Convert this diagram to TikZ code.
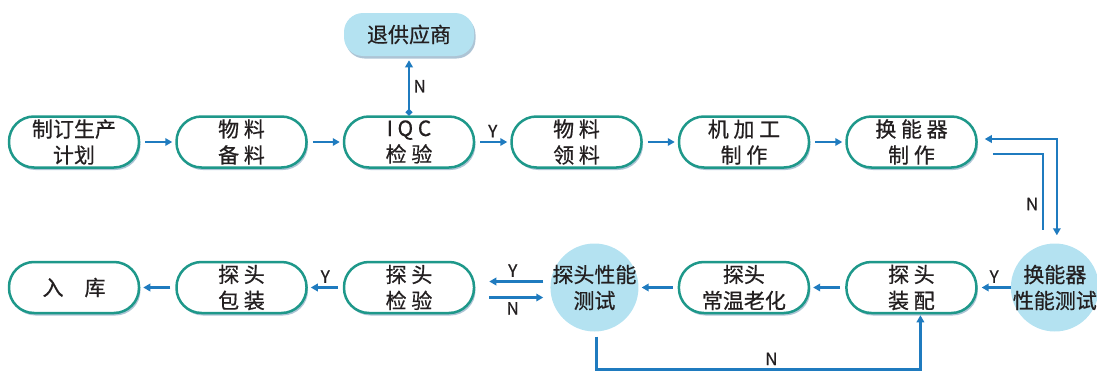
\documentclass[tikz,border=0pt]{standalone}
\usepackage{fontspec}
\newfontfamily\cjk[FakeBold=0.6]{Noto Sans CJK SC}
\usetikzlibrary{arrows.meta,positioning,shadows}
\definecolor{boxline}{HTML}{1E988A}
\definecolor{flowblue}{HTML}{1F7BBF}
\definecolor{testfill}{HTML}{B4E2F1}
\definecolor{txt}{HTML}{231F20}
\tikzset{%
        >={Triangle[length=7pt,width=7.5pt]},
        node distance=35pt
}
\tikzstyle{box}=[
    draw = boxline,
    line width = 2.5pt,
    fill = white,
    rounded corners = 25pt,
    minimum width = 130pt,
    minimum height = 51pt,
    inner sep = 2pt,
    align = center,
    text = txt,
    font = \cjk\fontsize{21}{26}\selectfont,
    drop shadow = {shadow xshift=1.5pt, shadow yshift=-2.5pt, fill=flowblue!55!gray, opacity=.45}
]
\tikzstyle{test}=[
    circle,
    fill = testfill,
    minimum size = 88pt,
    inner sep = 0pt,
    align = center,
    text = txt,
    font = \cjk\fontsize{21}{26}\selectfont
]
\tikzstyle{flow}=[
    ->,
    draw = flowblue,
    line width = 2.5pt,
    shorten > = 3pt,
    shorten < = 5pt
]
\tikzstyle{every edge}=[flow]
\tikzstyle{lbl}=[
    text = txt,
    font = \cjk\fontsize{17}{19}\selectfont
]
% centred line of fixed zero width, so the circle keeps its size
\newcommand{\testline}[1]{\makebox[0pt]{#1}}

\begin{document}
\begin{tikzpicture}[x=1pt,y=-1pt]
        \useasboundingbox (0,0) rectangle (1097,372);
        % upper row
        \node[box] (plan) at (74,142) {制订生产\\计划};
        \node[box] (prep) [right = of plan] {物 料\\备 料};
        \node[box] (iqc) [right = of prep] {I Q C\\检 验};
        \node[box] (mat) [right = of iqc] {物 料\\领 料};
        \node[box] (mach) [right = of mat] {机 加 工\\制 作};
        \node[box] (xdc) [right = of mach] {换 能 器\\制 作};
        \node[box, draw = none, fill = testfill, minimum height = 43pt, rounded corners = 19pt] (back) [above = 58pt of iqc] {退供应商};
        % lower row
        \node[box] (store) [below = 92pt of plan] {入\hspace{1em}库};
        \node[box] (pack) [right = of store] {探 头\\包 装};
        \node[box] (check) [right = of pack] {探 头\\检 验};
        \node[test] (ptest) [right = 75pt of check] {\testline{探头性能}\\\testline{测试}};
        \node[box] (aging) [right = 39pt of ptest] {探头\\常温老化};
        \node[box] (assy) [right = of aging] {探 头\\装 配};
        \node[test] (xtest) [right = 33pt of assy] {\testline{换能器}\\\testline{性能测试}};
        \path
        (plan) edge (prep)
        (prep) edge (iqc)
        (iqc) edge node[lbl, above] {Y} (mat)
        (iqc) edge[{Circle[length=6pt]}->, shorten < = 0pt]
        node[lbl, right] {N} (back)
        (mat) edge (mach)
        (mach) edge (xdc)
        (xtest) edge[shorten < = 0pt, shorten > = 4pt]
        node[lbl, above] {Y} (assy)
        (assy) edge (aging)
        (aging) edge (ptest)
        (check) edge node[lbl, above] {Y} (pack)
        (pack) edge (store)
        ;
        \draw[flow, <->, shorten < = 8pt, shorten > = 7pt] ([xshift=2pt]xtest.north) |- ([yshift=3pt]xdc.east);
        \draw[flow, -, shorten < = 15pt, shorten > = 13pt] ([yshift=-12pt]xdc.east) -| node[lbl, pos=0.78, left] {N} ([xshift=-12pt]xtest.north);
        \draw[flow, shorten < = 7pt, shorten > = 14pt] ([yshift=6pt]ptest.west) -- node[lbl, above] {Y} ([yshift=6pt]check.east);
        \draw[flow, shorten < = 14pt, shorten > = 7pt] ([yshift=-10pt]check.east) -- node[lbl, below] {N} ([yshift=-10pt]ptest.west);
        \draw[flow, shorten > = 1pt] ([xshift=2pt]ptest.south) -- ++(0,38) -| node[lbl, pos=0.27, above] {N} ([xshift=9pt]assy.south);
\end{tikzpicture}
\end{document}
